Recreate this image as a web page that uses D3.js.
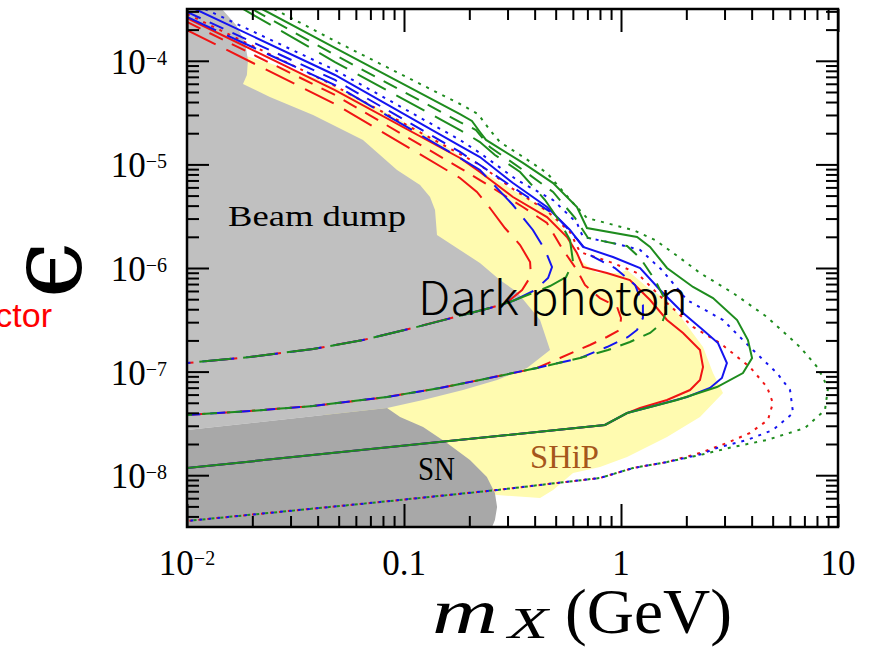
<!DOCTYPE html>
<html>
<head>
<meta charset="utf-8">
<script src="https://cdn.jsdelivr.net/npm/d3@7"></script>
<style>
  body { margin: 0; background: #fff; }
  svg { display: block; }
</style>
</head>
<body>
<div id="chart"></div>
<script>
// All points as [log10(m_X / GeV), log10(epsilon)]

// excluded regions
const beamDump = [[-2.000,-3.500],[-1.839,-3.500],[-1.774,-3.654],[-1.733,-3.819],[-1.719,-3.992],[-1.724,-4.137],[-1.742,-4.224],[-1.618,-4.349],[-1.419,-4.523],[-1.189,-4.764],[-1.032,-5.054],[-0.926,-5.199],[-0.880,-5.315],[-0.857,-5.440],[-0.848,-5.681],[-0.742,-5.826],[-0.650,-5.952],[-0.558,-6.116],[-0.479,-6.232],[-0.373,-6.502],[-0.327,-6.792],[-0.433,-6.965],[-0.571,-7.081],[-0.728,-7.178],[-0.912,-7.274],[-1.078,-7.351],[-2.000,-7.564]];
const supernova = [[-2.000,-7.564],[-1.078,-7.351],[-1.018,-7.438],[-0.912,-7.535],[-0.802,-7.689],[-0.696,-7.853],[-0.618,-8.017],[-0.581,-8.172],[-0.571,-8.307],[-0.581,-8.432],[-0.594,-8.500],[-2.000,-8.500]];
const ship = [[-1.756,-3.944],[-1.710,-3.963],[-1.419,-4.156],[-1.189,-4.378],[-0.959,-4.639],[-0.802,-4.832],[-0.664,-5.035],[-0.498,-5.247],[-0.341,-5.440],[-0.235,-5.701],[-0.189,-5.923],[-0.111,-6.048],[-0.005,-6.048],[0.028,-6.019],[0.120,-6.183],[0.212,-6.309],[0.286,-6.502],[0.378,-6.763],[0.424,-7.014],[0.470,-7.207],[0.364,-7.438],[0.212,-7.631],[0.028,-7.824],[-0.097,-7.921],[-0.221,-7.979],[-0.313,-8.143],[-0.373,-8.220],[-0.571,-8.191],[-0.926,-8.046],[-1.479,-7.274],[-1.940,-5.344],[-1.940,-3.992]];

// dotted contours (upper branch + nose), shared lower branch
const greenDot = [[-1.599,-3.500],[-1.318,-3.809],[-0.742,-4.417],[-0.659,-4.514],[-0.604,-4.668],[-0.558,-4.784],[-0.465,-4.909],[-0.341,-5.083],[-0.221,-5.373],[-0.157,-5.517],[0.055,-5.633],[0.157,-5.730],[0.272,-5.903],[0.364,-6.048],[0.516,-6.241],[0.673,-6.473],[0.825,-6.763],[0.908,-6.965],[0.954,-7.158],[0.940,-7.371],[0.848,-7.544],[0.673,-7.660],[0.516,-7.728],[0.364,-7.805]];
const blueDot = [[-1.917,-3.500],[-1.318,-4.089],[-0.742,-4.764],[-0.650,-4.890],[-0.479,-5.151],[-0.313,-5.344],[-0.203,-5.566],[-0.175,-5.701],[-0.037,-5.759],[0.088,-5.826],[0.189,-6.019],[0.304,-6.309],[0.470,-6.502],[0.608,-6.792],[0.719,-7.014],[0.779,-7.178],[0.793,-7.400],[0.700,-7.564],[0.581,-7.660],[0.442,-7.737],[0.364,-7.800]];
const redDot = [[-2.000,-3.548],[-1.318,-4.243],[-0.742,-4.900],[-0.650,-5.006],[-0.498,-5.237],[-0.341,-5.450],[-0.235,-5.653],[-0.189,-5.846],[-0.037,-5.952],[0.074,-6.048],[0.212,-6.338],[0.332,-6.569],[0.456,-6.724],[0.594,-6.956],[0.673,-7.149],[0.700,-7.303],[0.677,-7.467],[0.594,-7.593],[0.488,-7.689],[0.364,-7.786]];
const dotLow = [[0.212,-7.873],[0.055,-7.931],[-0.097,-8.027],[-0.295,-8.075],[-0.571,-8.143],[-1.111,-8.259],[-2.000,-8.442]];

// solid contours
const greenSolid = [[-1.654,-3.500],[-1.318,-3.876],[-0.742,-4.514],[-0.687,-4.581],[-0.650,-4.687],[-0.622,-4.764],[-0.452,-4.986],[-0.313,-5.180],[-0.203,-5.411],[-0.157,-5.614],[0.074,-5.701],[0.134,-5.797],[0.212,-6.000],[0.332,-6.183],[0.424,-6.290],[0.535,-6.502],[0.585,-6.695],[0.604,-6.869],[0.562,-7.014],[0.442,-7.149],[0.258,-7.274],[0.134,-7.342]];
const blueSolid = [[-1.963,-3.500],[-1.318,-4.137],[-0.742,-4.822],[-0.650,-4.929],[-0.498,-5.180],[-0.341,-5.411],[-0.235,-5.633],[-0.175,-5.797],[-0.037,-5.894],[0.088,-6.000],[0.180,-6.212],[0.286,-6.434],[0.378,-6.598],[0.447,-6.724],[0.488,-6.917],[0.465,-7.062],[0.410,-7.158],[0.304,-7.245],[0.134,-7.342]];
const redSolid = [[-2.000,-3.587],[-1.318,-4.282],[-0.742,-4.938],[-0.650,-5.073],[-0.498,-5.315],[-0.341,-5.508],[-0.249,-5.701],[-0.203,-5.855],[-0.175,-5.990],[-0.065,-6.048],[0.041,-6.116],[0.134,-6.309],[0.212,-6.502],[0.286,-6.627],[0.364,-6.792],[0.378,-6.956],[0.364,-7.081],[0.318,-7.178],[0.212,-7.274],[0.088,-7.351]];
const solidLow = [[0.028,-7.400],[-0.074,-7.515],[-1.018,-7.718],[-2.000,-7.931]];

// medium-dash contours
const greenMid = [[-1.700,-3.500],[-1.318,-3.944],[-0.742,-4.591],[-0.668,-4.668],[-0.604,-4.832],[-0.452,-5.054],[-0.313,-5.266],[-0.212,-5.517],[-0.152,-5.710],[0.028,-5.788],[0.088,-5.903],[0.157,-6.116],[0.203,-6.309],[0.207,-6.425],[0.189,-6.531],[0.134,-6.627],[0.041,-6.714],[-0.060,-6.792],[-0.189,-6.869]];
const blueMid = [[-2.000,-3.529],[-1.318,-4.185],[-0.742,-4.880],[-0.650,-5.006],[-0.465,-5.266],[-0.304,-5.488],[-0.198,-5.730],[-0.143,-5.875],[-0.028,-6.000],[0.065,-6.164],[0.101,-6.357],[0.101,-6.483],[0.074,-6.598],[0.032,-6.666],[-0.065,-6.763],[-0.189,-6.869]];
const redMid = [[-2.000,-3.625],[-1.318,-4.330],[-0.742,-5.035],[-0.650,-5.151],[-0.452,-5.411],[-0.341,-5.566],[-0.267,-5.826],[-0.203,-6.019],[-0.166,-6.164],[-0.097,-6.290],[-0.018,-6.376],[0.000,-6.483],[-0.005,-6.598],[-0.065,-6.666],[-0.143,-6.743],[-0.281,-6.869]];
const midLow = [[-0.387,-6.965],[-0.650,-7.081],[-0.834,-7.158],[-1.078,-7.245],[-1.419,-7.332],[-1.710,-7.380],[-2.000,-7.419]];

// long-dash contours
const greenLong = [[-1.742,-3.500],[-1.318,-4.012],[-0.742,-4.668],[-0.650,-4.784],[-0.581,-4.909],[-0.465,-5.073],[-0.350,-5.344],[-0.281,-5.556],[-0.235,-5.730],[-0.221,-5.942],[-0.253,-6.087],[-0.327,-6.174],[-0.419,-6.251]];
const blueLong = [[-2.000,-3.577],[-1.318,-4.234],[-0.742,-4.938],[-0.650,-5.054],[-0.498,-5.392],[-0.406,-5.633],[-0.350,-5.826],[-0.318,-5.990],[-0.336,-6.097],[-0.396,-6.212],[-0.488,-6.309]];
const redLong = [[-2.000,-3.703],[-1.318,-4.417],[-0.742,-5.131],[-0.664,-5.266],[-0.604,-5.421],[-0.535,-5.614],[-0.465,-5.778],[-0.419,-5.942],[-0.415,-6.077],[-0.456,-6.212],[-0.512,-6.309]];
const longLow = [[-0.512,-6.328],[-0.604,-6.386],[-0.728,-6.454],[-0.959,-6.579],[-1.189,-6.695],[-1.419,-6.782],[-1.710,-6.859],[-2.000,-6.917]];

// ticks
const xMajor = [0.01, 0.1, 1, 10];
const xTickText = [['10', '\u22122'], ['0.1', ''], ['1', ''], ['10', '']];
const yMajor = [1e-8, 1e-7, 1e-6, 1e-5, 1e-4];
const yTickText = [['10', '\u22128'], ['10', '\u22127'], ['10', '\u22126'], ['10', '\u22125'], ['10', '\u22124']];

const W = 884, H = 648;
const margin = { top: 9, right: 46, bottom: 121, left: 187 };
const innerW = W - margin.left - margin.right;
const innerH = H - margin.top - margin.bottom;

const RED = '#f01414', BLUE = '#1414f0', GREEN = '#1e8c1e';
const DOT = '3,6', MID = '15,10', LONG = '32,12';

const svg = d3.select('#chart').append('svg')
  .attr('width', W).attr('height', H)
  .style('font-family', '"Liberation Serif", serif');

const g = svg.append('g').attr('transform', `translate(${margin.left},${margin.top})`);

const x = d3.scaleLog().domain([0.01, 10]).range([0, innerW]);
const y = d3.scaleLog().domain([10 ** -8.5, 10 ** -3.5]).range([innerH, 0]);

svg.append('defs').append('clipPath').attr('id', 'plot')
  .append('rect').attr('width', innerW).attr('height', innerH);

const line = d3.line().x((d) => x(10 ** d[0])).y((d) => y(10 ** d[1]));

const plot = g.append('g').attr('clip-path', 'url(#plot)');

// regions
plot.append('path').attr('d', line(ship) + 'Z').attr('fill', '#fffbb0');
plot.append('path').attr('d', line(beamDump) + 'Z').attr('fill', '#c0c0c0');
plot.append('path').attr('d', line(supernova) + 'Z').attr('fill', '#a8a8a8');

// sensitivity contours: red, blue, green (green drawn last, on top)
const curves = [
  [redLong.concat(longLow), RED, LONG], [redMid.concat(midLow), RED, MID],
  [redSolid.concat(solidLow), RED, null], [redDot.concat(dotLow), RED, DOT],
  [blueLong.concat(longLow), BLUE, LONG], [blueMid.concat(midLow), BLUE, MID],
  [blueSolid.concat(solidLow), BLUE, null], [blueDot.concat(dotLow), BLUE, DOT],
  [greenLong.concat(longLow), GREEN, LONG], [greenMid.concat(midLow), GREEN, MID],
  [greenSolid.concat(solidLow), GREEN, null], [greenDot.concat(dotLow), GREEN, DOT],
];
curves.forEach(([pts, color, dash]) => {
  plot.append('path').attr('d', line(pts))
    .attr('fill', 'none').attr('stroke', color).attr('stroke-width', 2)
    .attr('stroke-dasharray', dash);
});

// ticks on all four sides, pointing inward
const xMinor = [0.01, 0.1, 1].flatMap((b) => d3.range(2, 10).map((k) => k * b));
const yMinor = [1e-9, 1e-8, 1e-7, 1e-6, 1e-5, 1e-4].flatMap((b) => d3.range(2, 10).map((k) => k * b))
  .filter((v) => v > 10 ** -8.5 && v < 10 ** -3.5);

function tickRow(axisFn, scale, vals, len, tx, ty) {
  const a = g.append('g').attr('transform', `translate(${tx},${ty})`)
    .call(axisFn(scale).tickValues(vals).tickSize(-len).tickFormat(''));
  a.select('.domain').remove();
  a.selectAll('text').remove();
  a.selectAll('line').attr('stroke', '#000').attr('stroke-width', 2);
}
tickRow(d3.axisBottom, x, xMajor, 23, 0, innerH);
tickRow(d3.axisBottom, x, xMinor, 11, 0, innerH);
tickRow(d3.axisTop, x, xMajor, 23, 0, 0);
tickRow(d3.axisTop, x, xMinor, 11, 0, 0);
tickRow(d3.axisLeft, y, yMajor, 22, 0, 0);
tickRow(d3.axisLeft, y, yMinor, 12, 0, 0);
tickRow(d3.axisRight, y, yMajor, 22, innerW, 0);
tickRow(d3.axisRight, y, yMinor, 12, innerW, 0);

g.append('rect').attr('width', innerW).attr('height', innerH)
  .attr('fill', 'none').attr('stroke', '#000').attr('stroke-width', 2.5);

// tick labels
xMajor.forEach((v, i) => {
  const t = g.append('text').attr('x', x(v)).attr('y', innerH + 48)
    .attr('text-anchor', 'middle').attr('font-size', 35).text(xTickText[i][0]);
  if (xTickText[i][1]) {
    t.append('tspan').attr('dy', -10).attr('font-size', 20).text(xTickText[i][1]);
  }
});
yMajor.forEach((v, i) => {
  g.append('text').attr('x', -20).attr('y', y(v) + 13)
    .attr('text-anchor', 'end').attr('font-size', 35).text(yTickText[i][0])
    .append('tspan').attr('dy', -9).attr('font-size', 20).text(yTickText[i][1]);
});

// axis titles
svg.append('text').attr('x', 432).attr('y', 633).attr('font-size', 64)
  .attr('font-style', 'italic').attr('textLength', 66).attr('lengthAdjust', 'spacingAndGlyphs').text('m');
svg.append('text').attr('x', 508).attr('y', 638).attr('font-size', 44)
  .attr('font-style', 'italic').attr('textLength', 40).attr('lengthAdjust', 'spacingAndGlyphs').text('X');
svg.append('text').attr('x', 565).attr('y', 633).attr('font-size', 64)
  .attr('textLength', 167).attr('lengthAdjust', 'spacingAndGlyphs').text('(GeV)');

svg.append('g').attr('transform', 'translate(55,270) rotate(-90)')
  .append('text').attr('x', 0).attr('y', 26).attr('text-anchor', 'middle')
  .attr('font-family', '"DejaVu Serif", serif').attr('font-size', 102).text('\u03F5');

svg.append('text').attr('x', 52).attr('y', 327).attr('text-anchor', 'end')
  .attr('font-family', '"Liberation Sans", Arial, sans-serif').attr('font-size', 34)
  .attr('fill', '#ff0000').text('Vector');

// region labels
svg.append('text').attr('x', 228).attr('y', 226).attr('font-size', 30)
  .attr('textLength', 178).attr('lengthAdjust', 'spacingAndGlyphs').text('Beam dump');
svg.append('text').attr('x', 418).attr('y', 480).attr('font-size', 33)
  .attr('textLength', 37).attr('lengthAdjust', 'spacingAndGlyphs').text('SN');
svg.append('text').attr('x', 530).attr('y', 468).attr('font-size', 33).attr('fill', '#a5561c')
  .attr('textLength', 69).attr('lengthAdjust', 'spacingAndGlyphs').text('SHiP');
svg.append('text').attr('x', 418).attr('y', 315).attr('font-size', 46).attr('font-weight', 300)
  .attr('font-family', '"Noto Sans CJK JP", "Noto Sans", sans-serif')
  .attr('textLength', 270).attr('lengthAdjust', 'spacingAndGlyphs').text('Dark photon');
</script>
</body>
</html>
